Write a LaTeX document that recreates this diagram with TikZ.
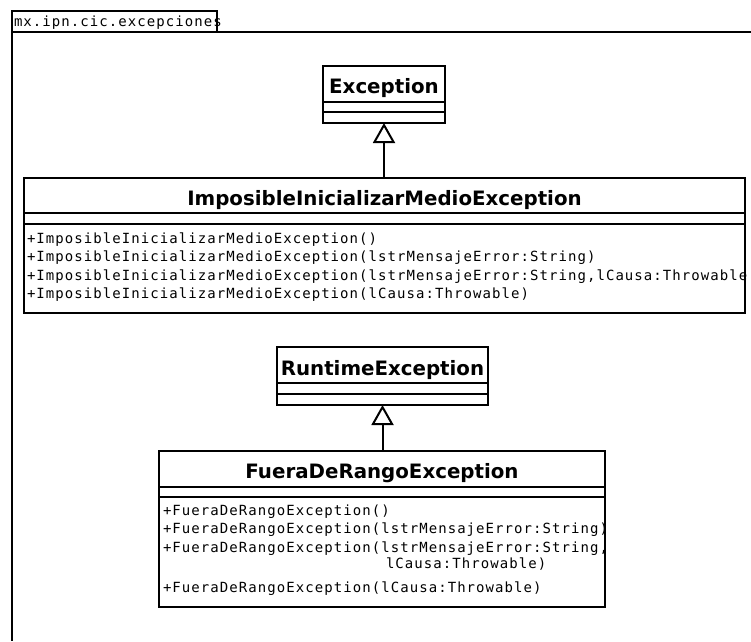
\documentclass[tikz,border=0pt]{standalone}
\usepackage{fontspec}
\setmainfont{DejaVu Sans}
\newfontfamily\opfont[LetterSpace=7.6]{DejaVu Sans Mono}
\usetikzlibrary{arrows.meta}

\begin{document}
\begin{tikzpicture}[x=1pt,y=-1pt,line width=2pt,
  classbox/.style={draw,rectangle,inner sep=0pt,outer sep=0pt,anchor=north west},
  classname/.style={inner sep=0pt,anchor=base,font=\fontsize{19.8}{22}\selectfont\bfseries},
  member/.style={inner sep=0pt,anchor=base west,font=\fontsize{14}{16}\opfont},
  inherit/.style={-{Triangle[open,length=20pt,width=22pt]}}]

% page area
\fill[white] (0,0) rectangle (751,641);
\useasboundingbox (0,0) rectangle (751,641);

% package frame with its name tab
\draw (12,11) rectangle (217,32);
\node[member] (pkg) at (13,26) {mx.ipn.cic.excepciones};
\draw (751,32) -- (12,32) -- (12,641);

% class Exception
\node[classbox,minimum width=122,minimum height=57] (exc) at (323,66) {};
\node[classname] (excT) at (384,93) {Exception};
\draw ([yshift=-36pt]exc.north west) -- ([yshift=-36pt]exc.north east);
\draw ([yshift=-46pt]exc.north west) -- ([yshift=-46pt]exc.north east);

% class ImposibleInicializarMedioException
\node[classbox,minimum width=721,minimum height=135] (imp) at (24,178) {};
\node[classname] (impT) at (384.5,205) {ImposibleInicializarMedioException};
\draw ([yshift=-35pt]imp.north west) -- ([yshift=-35pt]imp.north east);
\draw ([yshift=-46pt]imp.north west) -- ([yshift=-46pt]imp.north east);
\node[member] (imp1) at (26,243) {+ImposibleInicializarMedioException()};
\node[member] (imp2) at (26,261.5) {+ImposibleInicializarMedioException(lstrMensajeError:String)};
\node[member] (imp3) at (26,280) {+ImposibleInicializarMedioException(lstrMensajeError:String,lCausa:Throwable};
\node[member] (imp4) at (26,298.5) {+ImposibleInicializarMedioException(lCausa:Throwable)};

% class RuntimeException
\node[classbox,minimum width=211,minimum height=58] (rte) at (277,347) {};
\node[classname] (rteT) at (382.5,375) {RuntimeException};
\draw ([yshift=-36pt]rte.north west) -- ([yshift=-36pt]rte.north east);
\draw ([yshift=-47pt]rte.north west) -- ([yshift=-47pt]rte.north east);

% class FueraDeRangoException
\node[classbox,minimum width=446,minimum height=156] (fdr) at (159,451) {};
\node[classname] (fdrT) at (382,478) {FueraDeRangoException};
\draw ([yshift=-36pt]fdr.north west) -- ([yshift=-36pt]fdr.north east);
\draw ([yshift=-46pt]fdr.north west) -- ([yshift=-46pt]fdr.north east);
\node[member] (fdr1) at (162,515) {+FueraDeRangoException()};
\node[member] (fdr2) at (162,533.5) {+FueraDeRangoException(lstrMensajeError:String)};
\node[member] (fdr3) at (162,552) {+FueraDeRangoException(lstrMensajeError:String,};
\node[member] (fdr3b) at (385,568) {lCausa:Throwable)};
\node[member] (fdr4) at (162,592) {+FueraDeRangoException(lCausa:Throwable)};

% generalizations
\draw[inherit] (imp.north -| exc.south) -- (exc.south);
\draw[inherit] (fdr.north -| rte.south) -- (rte.south);
\end{tikzpicture}
\end{document}
